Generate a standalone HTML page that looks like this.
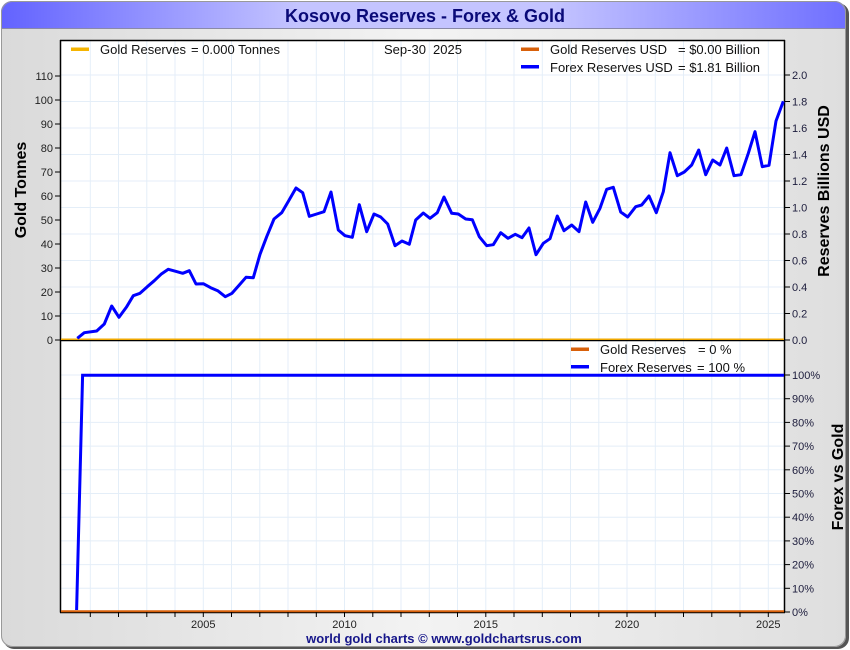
<!DOCTYPE html>
<html><head><meta charset="utf-8"><style>
html,body{margin:0;padding:0;background:#fff;}
svg{display:block;font-family:"Liberation Sans",Arial,sans-serif;}
</style></head><body>
<svg width="850" height="650" viewBox="0 0 850 650" xmlns="http://www.w3.org/2000/svg">
<defs>
<linearGradient id="bg" x1="0" y1="0" x2="1" y2="0">
<stop offset="0" stop-color="#dadada"/><stop offset="0.5" stop-color="#f3f3f3"/><stop offset="1" stop-color="#dedede"/>
</linearGradient>
<linearGradient id="tb" x1="0" y1="0" x2="1" y2="0">
<stop offset="0" stop-color="#6262ff"/><stop offset="0.35" stop-color="#c4c4ff"/><stop offset="0.65" stop-color="#c4c4ff"/><stop offset="1" stop-color="#6e6eff"/>
</linearGradient>
<clipPath id="fr"><rect x="1" y="1" width="845" height="646" rx="11"/></clipPath>
</defs>
<rect x="3" y="3" width="846" height="646" rx="11" fill="#555"/>
<g clip-path="url(#fr)">
<rect x="0" y="0" width="850" height="650" fill="url(#bg)"/>
<rect x="0" y="0" width="850" height="28" fill="url(#tb)"/>
<line x1="0" y1="28.5" x2="850" y2="28.5" stroke="#8a8aa8" stroke-width="1"/>
</g>
<rect x="1.5" y="1.5" width="844" height="645" rx="11" fill="none" stroke="#999" stroke-width="1"/>
<text x="425" y="22" text-anchor="middle" font-size="18" font-weight="bold" fill="#0a0a78">Kosovo Reserves - Forex &amp; Gold</text>

<rect x="60" y="40" width="725" height="572" fill="#fff"/>
<g stroke="#e4eef8" stroke-width="1">
<line x1="90.3" y1="40" x2="90.3" y2="612"/><line x1="118.5" y1="40" x2="118.5" y2="612"/><line x1="146.8" y1="40" x2="146.8" y2="612"/><line x1="175" y1="40" x2="175" y2="612"/><line x1="203.3" y1="40" x2="203.3" y2="612"/><line x1="231.5" y1="40" x2="231.5" y2="612"/><line x1="259.8" y1="40" x2="259.8" y2="612"/><line x1="288" y1="40" x2="288" y2="612"/><line x1="316.3" y1="40" x2="316.3" y2="612"/><line x1="344.5" y1="40" x2="344.5" y2="612"/><line x1="372.8" y1="40" x2="372.8" y2="612"/><line x1="401" y1="40" x2="401" y2="612"/><line x1="429.3" y1="40" x2="429.3" y2="612"/><line x1="457.5" y1="40" x2="457.5" y2="612"/><line x1="485.8" y1="40" x2="485.8" y2="612"/><line x1="514" y1="40" x2="514" y2="612"/><line x1="542.3" y1="40" x2="542.3" y2="612"/><line x1="570.5" y1="40" x2="570.5" y2="612"/><line x1="598.8" y1="40" x2="598.8" y2="612"/><line x1="627" y1="40" x2="627" y2="612"/><line x1="655.3" y1="40" x2="655.3" y2="612"/><line x1="683.5" y1="40" x2="683.5" y2="612"/><line x1="711.8" y1="40" x2="711.8" y2="612"/><line x1="740" y1="40" x2="740" y2="612"/><line x1="768.3" y1="40" x2="768.3" y2="612"/>
<line x1="60" y1="313.5" x2="785" y2="313.5"/><line x1="60" y1="287" x2="785" y2="287"/><line x1="60" y1="260.5" x2="785" y2="260.5"/><line x1="60" y1="234" x2="785" y2="234"/><line x1="60" y1="207.5" x2="785" y2="207.5"/><line x1="60" y1="181" x2="785" y2="181"/><line x1="60" y1="154.5" x2="785" y2="154.5"/><line x1="60" y1="128" x2="785" y2="128"/><line x1="60" y1="101.5" x2="785" y2="101.5"/><line x1="60" y1="75" x2="785" y2="75"/>
<line x1="60" y1="588.3" x2="785" y2="588.3"/><line x1="60" y1="564.6" x2="785" y2="564.6"/><line x1="60" y1="540.9" x2="785" y2="540.9"/><line x1="60" y1="517.2" x2="785" y2="517.2"/><line x1="60" y1="493.5" x2="785" y2="493.5"/><line x1="60" y1="469.8" x2="785" y2="469.8"/><line x1="60" y1="446.1" x2="785" y2="446.1"/><line x1="60" y1="422.4" x2="785" y2="422.4"/><line x1="60" y1="398.7" x2="785" y2="398.7"/><line x1="60" y1="375" x2="785" y2="375"/>
</g>

<g stroke="#000" stroke-width="1.5" fill="none">
<line x1="60.5" y1="40" x2="60.5" y2="612.5"/>
<line x1="784.5" y1="40" x2="784.5" y2="612.5"/>
<line x1="60" y1="40.5" x2="785" y2="40.5"/>
<line x1="60" y1="340.5" x2="785" y2="340.5"/>
<line x1="60" y1="612.5" x2="785" y2="612.5"/>
</g>
<line x1="61" y1="339.2" x2="784" y2="339.2" stroke="#f0a800" stroke-width="1.5"/>
<line x1="61" y1="611.3" x2="784" y2="611.3" stroke="#d8600a" stroke-width="2"/>

<g stroke="#000" stroke-width="1">
<line x1="55" y1="340" x2="60" y2="340"/><line x1="55" y1="316" x2="60" y2="316"/><line x1="55" y1="292" x2="60" y2="292"/><line x1="55" y1="268" x2="60" y2="268"/><line x1="55" y1="244" x2="60" y2="244"/><line x1="55" y1="220" x2="60" y2="220"/><line x1="55" y1="196" x2="60" y2="196"/><line x1="55" y1="172" x2="60" y2="172"/><line x1="55" y1="148" x2="60" y2="148"/><line x1="55" y1="124" x2="60" y2="124"/><line x1="55" y1="100" x2="60" y2="100"/><line x1="55" y1="76" x2="60" y2="76"/>
</g>
<g font-size="11" fill="#222" text-anchor="end">
<text x="53" y="344">0</text><text x="53" y="320">10</text><text x="53" y="296">20</text><text x="53" y="272">30</text><text x="53" y="248">40</text><text x="53" y="224">50</text><text x="53" y="200">60</text><text x="53" y="176">70</text><text x="53" y="152">80</text><text x="53" y="128">90</text><text x="53" y="104">100</text><text x="53" y="80">110</text>
</g>

<g stroke="#000" stroke-width="1">
<line x1="785" y1="340" x2="790" y2="340"/><line x1="785" y1="313.5" x2="790" y2="313.5"/><line x1="785" y1="287" x2="790" y2="287"/><line x1="785" y1="260.5" x2="790" y2="260.5"/><line x1="785" y1="234" x2="790" y2="234"/><line x1="785" y1="207.5" x2="790" y2="207.5"/><line x1="785" y1="181" x2="790" y2="181"/><line x1="785" y1="154.5" x2="790" y2="154.5"/><line x1="785" y1="128" x2="790" y2="128"/><line x1="785" y1="101.5" x2="790" y2="101.5"/><line x1="785" y1="75" x2="790" y2="75"/>
<line x1="785" y1="612" x2="790" y2="612"/><line x1="785" y1="588.3" x2="790" y2="588.3"/><line x1="785" y1="564.6" x2="790" y2="564.6"/><line x1="785" y1="540.9" x2="790" y2="540.9"/><line x1="785" y1="517.2" x2="790" y2="517.2"/><line x1="785" y1="493.5" x2="790" y2="493.5"/><line x1="785" y1="469.8" x2="790" y2="469.8"/><line x1="785" y1="446.1" x2="790" y2="446.1"/><line x1="785" y1="422.4" x2="790" y2="422.4"/><line x1="785" y1="398.7" x2="790" y2="398.7"/><line x1="785" y1="375" x2="790" y2="375"/>
</g>
<g font-size="11" fill="#1c1c3c">
<text x="792" y="344">0.0</text><text x="792" y="317.5">0.2</text><text x="792" y="291">0.4</text><text x="792" y="264.5">0.6</text><text x="792" y="238">0.8</text><text x="792" y="211.5">1.0</text><text x="792" y="185">1.2</text><text x="792" y="158.5">1.4</text><text x="792" y="132">1.6</text><text x="792" y="105.5">1.8</text><text x="792" y="79">2.0</text>
<text x="792" y="616">0%</text><text x="792" y="592.3">10%</text><text x="792" y="568.6">20%</text><text x="792" y="544.9">30%</text><text x="792" y="521.2">40%</text><text x="792" y="497.5">50%</text><text x="792" y="473.8">60%</text><text x="792" y="450.1">70%</text><text x="792" y="426.4">80%</text><text x="792" y="402.7">90%</text><text x="792" y="379">100%</text>
</g>

<g stroke="#000" stroke-width="1">
<line x1="90.3" y1="612" x2="90.3" y2="617"/><line x1="118.5" y1="612" x2="118.5" y2="617"/><line x1="146.8" y1="612" x2="146.8" y2="617"/><line x1="175" y1="612" x2="175" y2="617"/><line x1="203.3" y1="612" x2="203.3" y2="617"/><line x1="231.5" y1="612" x2="231.5" y2="617"/><line x1="259.8" y1="612" x2="259.8" y2="617"/><line x1="288" y1="612" x2="288" y2="617"/><line x1="316.3" y1="612" x2="316.3" y2="617"/><line x1="344.5" y1="612" x2="344.5" y2="617"/><line x1="372.8" y1="612" x2="372.8" y2="617"/><line x1="401" y1="612" x2="401" y2="617"/><line x1="429.3" y1="612" x2="429.3" y2="617"/><line x1="457.5" y1="612" x2="457.5" y2="617"/><line x1="485.8" y1="612" x2="485.8" y2="617"/><line x1="514" y1="612" x2="514" y2="617"/><line x1="542.3" y1="612" x2="542.3" y2="617"/><line x1="570.5" y1="612" x2="570.5" y2="617"/><line x1="598.8" y1="612" x2="598.8" y2="617"/><line x1="627" y1="612" x2="627" y2="617"/><line x1="655.3" y1="612" x2="655.3" y2="617"/><line x1="683.5" y1="612" x2="683.5" y2="617"/><line x1="711.8" y1="612" x2="711.8" y2="617"/><line x1="740" y1="612" x2="740" y2="617"/><line x1="768.3" y1="612" x2="768.3" y2="617"/>
</g>
<g font-size="11" fill="#222" text-anchor="middle">
<text x="203.3" y="628">2005</text><text x="344.5" y="628">2010</text><text x="485.8" y="628">2015</text><text x="627" y="628">2020</text><text x="768.3" y="628">2025</text>
</g>

<polyline fill="none" stroke="#0000ff" stroke-width="3" stroke-linejoin="round" points="77.3,338.3 84.3,332.7 96.7,331 104.3,324 111.7,306 119,317.3 126.7,306.7 133.3,295.7 140,293.3 147.3,286.7 154.3,280.7 161,274.3 168.3,269.3 175.7,271.3 182.7,273.3 189.3,270.7 196,284 203.3,283.7 210.7,287.7 217.7,290.7 225.3,296.7 232,293.3 239.3,285 246,277.3 253.3,277.7 260,254.3 266.7,236.7 274,219 281.7,212.7 288.7,200.7 296,188 302.7,192.7 309.3,216.3 316.7,214 324,211.7 331,192 338.3,230 345,235.7 352.3,237.3 359.3,204.7 366.7,231.7 374,214 380.7,217 387.7,224 395,245.7 402,241 409.3,244.3 415.7,220 423.3,213 430,218.3 437.3,212.7 444,197 451.7,213.3 458.3,214 465.7,219 472.3,219.7 479.3,236.7 486.7,245.7 493.3,244.7 500.7,232.7 508,238.3 515.3,234.3 522,237.7 529,228 536,254.7 543.3,243.3 550,238.7 557.3,216 564,230.7 571.7,225 579,231.7 585.7,202 592.7,222.3 600,208.3 606.7,189.3 613.3,187.3 620.7,212 627.7,217 635.7,206.7 641.7,205 649,196 656.3,212.7 663.3,191.7 670,152.7 677.3,175.7 684.3,172 691.7,165 698.7,150 705.7,174.7 712.7,160 720,165 726.7,148 734,175.7 741,174.7 748.3,153.3 755,131.7 762.3,166.7 769,165.3 776,121 783.3,101.3"/>
<polyline fill="none" stroke="#0000ff" stroke-width="3" points="76.6,610 82.6,375.3 784,375.3"/>

<rect x="71" y="47.5" width="18" height="3.5" fill="#f5b400"/>
<g font-size="13" fill="#111">
<text x="100" y="54">Gold Reserves</text><text x="191" y="54">= 0.000 Tonnes</text>
<text x="384" y="54">Sep-30</text><text x="433" y="54">2025</text>
<text x="550" y="54">Gold Reserves USD</text><text x="678" y="54">= $0.00 Billion</text>
<text x="550" y="72">Forex Reserves USD</text><text x="678" y="72">= $1.81 Billion</text>
<text x="600" y="354">Gold Reserves</text><text x="698" y="354">= 0 %</text>
<text x="600" y="372">Forex Reserves</text><text x="697" y="372">= 100 %</text>
</g>
<rect x="521" y="47.5" width="18" height="3.5" fill="#d8600a"/>
<rect x="521" y="65" width="18" height="3.5" fill="#0000ff"/>
<rect x="571" y="347.5" width="18" height="3.5" fill="#d8600a"/>
<rect x="571" y="365" width="18" height="3.5" fill="#0000ff"/>

<text transform="translate(26,190) rotate(-90)" text-anchor="middle" font-size="16" font-weight="bold" fill="#000">Gold Tonnes</text>
<text transform="translate(829,191) rotate(-90)" text-anchor="middle" font-size="16" font-weight="bold" fill="#000">Reserves Billions USD</text>
<text transform="translate(843,477) rotate(-90)" text-anchor="middle" font-size="16" font-weight="bold" fill="#000">Forex vs Gold</text>

<text x="444" y="643" text-anchor="middle" font-size="13" font-weight="bold" fill="#16168a">world gold charts © www.goldchartsrus.com</text>
</svg>
</body></html>
